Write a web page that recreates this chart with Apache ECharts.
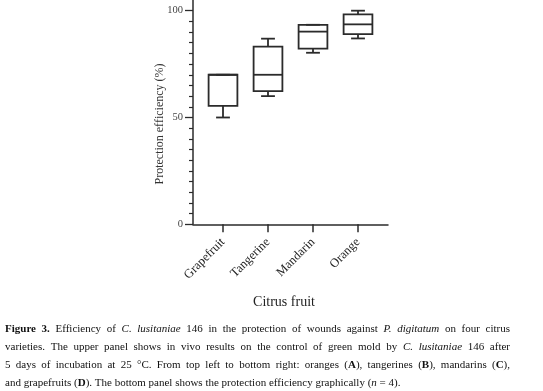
<!DOCTYPE html>
<html>
<head>
<meta charset="utf-8">
<script src="https://cdn.jsdelivr.net/npm/echarts@6/dist/echarts.min.js"></script>
<style>
html,body{margin:0;padding:0;background:#fff;}
#chart{width:543px;height:391px;}
</style>
</head>
<body>
<div id="chart"></div>
<script>
// ---- data ----
const categories = ['Grapefruit', 'Tangerine', 'Mandarin', 'Orange'];
const minVals    = [50, 60, 80.3, 87];
const q1Vals     = [55.4, 62.3, 82.2, 89];
const medianVals = [70, 70, 90.2, 93.6];
const q3Vals     = [70, 83.2, 93.4, 98.3];
const maxVals    = [70, 86.9, 93.4, 100];
const majorTicks = [0, 50, 100];
const minorTicks = [5, 10, 15, 20, 25, 30, 35, 40, 45, 55, 60, 65, 70, 75, 80, 85, 90, 95];
const yTitle = 'Protection efficiency (%)';
const xTitle = 'Citrus fruit';

// caption lines: [style, text] segments (n = normal, b = bold, i = italic)
const captionLines = [
  [['b', 'Figure 3.'], ['n', ' Efficiency of '], ['i', 'C. lusitaniae'], ['n', ' 146 in the protection of wounds against '], ['i', 'P. digitatum'], ['n', ' on four citrus']],
  [['n', 'varieties. The upper panel shows in vivo results on the control of green mold by '], ['i', 'C. lusitaniae'], ['n', ' 146 after']],
  [['n', '5 days of incubation at 25 °C. From top left to bottom right: oranges ('], ['b', 'A'], ['n', '), tangerines ('], ['b', 'B'], ['n', '), mandarins ('], ['b', 'C'], ['n', '),']],
  [['n', 'and grapefruits ('], ['b', 'D'], ['n', '). The bottom panel shows the protection efficiency graphically ('], ['i', 'n'], ['n', ' = 4).']]
];
const captionJustify = [true, true, true, false];

const boxData = categories.map((c, i) => [i, minVals[i], q1Vals[i], medianVals[i], q3Vals[i], maxVals[i]]);

const SERIF = '"Liberation Serif", "Times New Roman", serif';
const INK = '#2b2b2b';
const CAP = 11;
const CAP_LEFT = 5, CAP_RIGHT = 510;
const CAP_Y = [329, 347, 365, 383];

const fontOf = s => (s === 'b' ? 'bold ' : s === 'i' ? 'italic ' : '') + CAP + 'px ' + SERIF;
const ctx = document.createElement('canvas').getContext('2d');
function measure(t, s) { ctx.font = fontOf(s); return ctx.measureText(t).width; }

function buildCaption(segs, justify, idx) {
  const pieces = [];
  segs.forEach(([s, t]) => {
    t.split(/( )/).forEach(p => { if (p.length) pieces.push([s, p]); });
  });
  let natural = 0, nSpaces = 0;
  pieces.forEach(([s, p]) => { natural += measure(p, s); if (p === ' ') nSpaces++; });
  const spW = measure(' ', 'n');
  const extra = justify && nSpaces ? (CAP_RIGHT - CAP_LEFT - natural) / nSpaces : 0;
  const rich = {
    n: {font: fontOf('n'), fill: '#111'},
    b: {font: fontOf('b'), fill: '#111'},
    i: {font: fontOf('i'), fill: '#111'},
    sp: {font: fontOf('n'), fill: '#111', width: Math.max(1, spW + extra)}
  };
  const text = pieces.map(([s, p]) => p === ' ' ? '{sp| }' : '{' + s + '|' + p + '}').join('');
  return {type: 'text', x: CAP_LEFT, y: CAP_Y[idx],
    style: {text, rich, font: fontOf('n'), fill: '#111', verticalAlign: 'middle'}};
}

const chart = echarts.init(document.getElementById('chart'), null, {renderer: 'canvas'});

function renderBox(params, api) {
  const x = api.value(0);
  const pMin = api.coord([x, api.value(1)]);
  const pQ1 = api.coord([x, api.value(2)]);
  const pMed = api.coord([x, api.value(3)]);
  const pQ3 = api.coord([x, api.value(4)]);
  const pMax = api.coord([x, api.value(5)]);
  const band = api.size([1, 0])[0];
  const bw = band * 0.64;
  const cw = bw * 0.48;
  const cx = pMed[0];
  const style = {stroke: INK, lineWidth: 1.8, fill: null};
  const ln = (x1, y1, x2, y2) => ({type: 'line', shape: {x1, y1, x2, y2}, style});
  return {
    type: 'group',
    children: [
      {type: 'rect', shape: {x: cx - bw / 2, y: pQ3[1], width: bw, height: pQ1[1] - pQ3[1]}, style: {stroke: INK, lineWidth: 1.8, fill: '#fff'}},
      ln(cx - bw / 2, pMed[1], cx + bw / 2, pMed[1]),
      ln(cx, pQ3[1], cx, pMax[1]),
      ln(cx, pQ1[1], cx, pMin[1]),
      ln(cx - cw / 2, pMax[1], cx + cw / 2, pMax[1]),
      ln(cx - cw / 2, pMin[1], cx + cw / 2, pMin[1])
    ]
  };
}

const option = {
  backgroundColor: '#fff',
  animation: false,
  grid: [
    {left: 200.5, width: 180, top: 0, height: 224.3},
    {left: 193, width: 195, top: 0, height: 224.3}
  ],
  xAxis: [
    {
      type: 'category', gridIndex: 0, data: categories, boundaryGap: true,
      axisLine: {show: false},
      axisTick: {show: true, alignWithLabel: true, length: 8, lineStyle: {color: INK, width: 1.5}},
      axisLabel: {rotate: 45, margin: 16, fontFamily: SERIF, fontSize: 12.5, color: '#222'},
      splitLine: {show: false}
    },
    {
      type: 'value', gridIndex: 1, min: 0, max: 1,
      axisLine: {show: true, lineStyle: {color: INK, width: 1.5}},
      axisTick: {show: false}, axisLabel: {show: false}, splitLine: {show: false}
    }
  ],
  yAxis: [
    {type: 'value', gridIndex: 0, min: 0, max: 105, show: false},
    {
      type: 'value', gridIndex: 1, position: 'left', min: 0, max: 105,
      axisLine: {show: true, lineStyle: {color: INK, width: 1.5}},
      axisTick: {show: true, customValues: majorTicks, length: 8, lineStyle: {color: INK, width: 1.3}},
      axisLabel: {show: true, customValues: majorTicks, margin: 10, fontFamily: SERIF, fontSize: 10.5, color: '#444'},
      splitLine: {show: false}
    },
    {
      type: 'value', gridIndex: 1, position: 'left', offset: 0, min: 0, max: 105,
      axisLine: {show: false},
      axisTick: {show: true, customValues: minorTicks, length: 4, lineStyle: {color: INK, width: 1.2}},
      axisLabel: {show: false},
      splitLine: {show: false}
    }
  ],
  series: [{
    type: 'custom',
    xAxisIndex: 0, yAxisIndex: 0,
    data: boxData,
    encode: {x: 0, y: [1, 2, 3, 4, 5]},
    renderItem: renderBox,
    clip: false
  }],
  graphic: [
    {type: 'text', x: 160, y: 124, rotation: Math.PI / 2,
     style: {text: yTitle, font: '12px ' + SERIF, fill: '#333', align: 'center', verticalAlign: 'middle'}},
    {type: 'text', x: 284, y: 302,
     style: {text: xTitle, font: '14px ' + SERIF, fill: '#222', align: 'center', verticalAlign: 'middle'}}
  ].concat(captionLines.map((segs, i) => buildCaption(segs, captionJustify[i], i)))
};
chart.setOption(option);
</script>
</body>
</html>
